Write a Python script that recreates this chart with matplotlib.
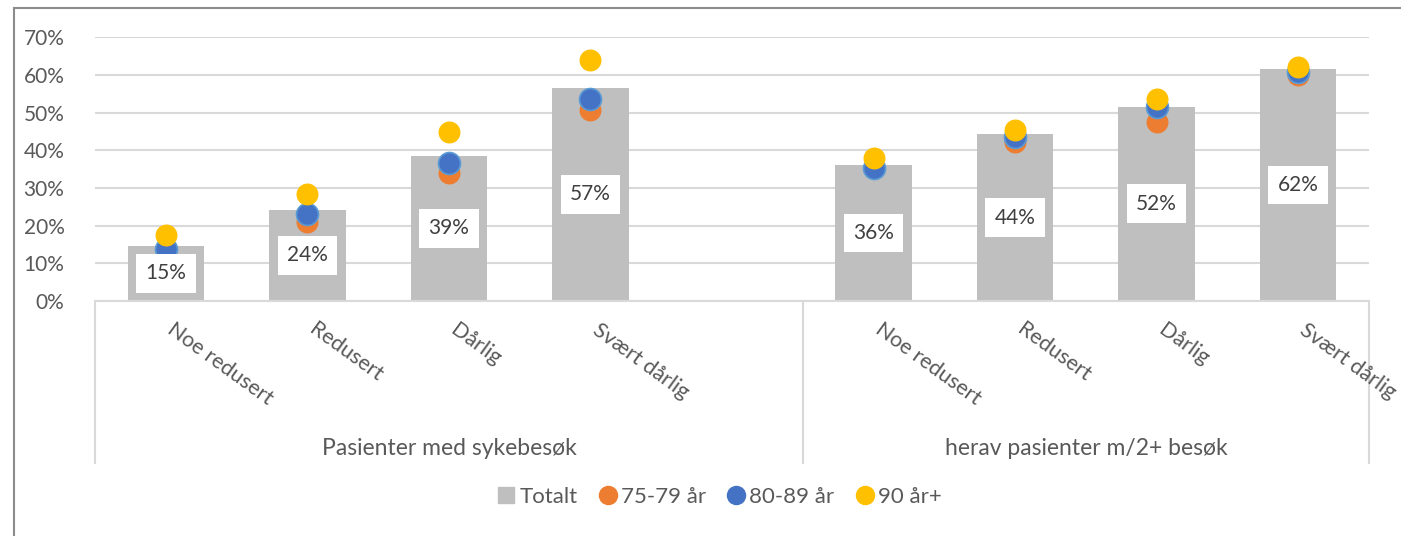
import matplotlib
matplotlib.use("Agg")
import matplotlib.pyplot as plt
import numpy as np
from matplotlib.lines import Line2D
from matplotlib.patches import Patch

plt.rcParams['font.family'] = ['Lato', 'DejaVu Sans']

# Categories (slot 4 is the empty gap between the two groups)
categories = ['Noe redusert', 'Redusert', 'Dårlig', 'Svært dårlig', '',
              'Noe redusert', 'Redusert', 'Dårlig', 'Svært dårlig']
groups = ['Pasienter med sykebesøk', 'herav pasienter m/2+ besøk']
group_spans = [(-0.5, 4.5), (4.5, 8.5)]

# Values in percent
totalt = [14.6, 24.2, 38.6, 56.6, np.nan, 36.1, 44.3, 51.6, 61.6]
age_75_79 = [13.9, 21.0, 33.9, 50.7, np.nan, 35.4, 42.3, 47.6, 60.0]
age_80_89 = [13.7, 23.2, 36.5, 53.6, np.nan, 35.2, 43.6, 51.4, 60.9]
age_90 = [17.6, 28.4, 44.8, 64.0, np.nan, 38.0, 45.4, 53.5, 62.2]

grey = '#bfbfbf'
orange = '#ed7d31'
blue = '#4472c4'
yellow = '#ffc000'
text_col = '#595959'
grid_col = '#d9d9d9'

fig = plt.figure(figsize=(14.01, 5.36), dpi=100)
ax = fig.add_axes([95 / 1401, 1 - 301 / 536, (1369 - 95) / 1401, (301 - 37.3) / 536])

x = np.arange(len(categories))
ax.bar(x, totalt, width=0.54, color=grey, zorder=2)
ax.scatter(x, age_75_79, s=250, color=orange, zorder=3, linewidths=0)
ax.scatter(x, age_80_89, s=250, color=blue, edgecolors='#5b9bd5', linewidths=1.2, zorder=4)
ax.scatter(x, age_90, s=250, color=yellow, zorder=5, linewidths=0)

# data labels in the middle of the bars
for xi, v in zip(x, totalt):
    if np.isnan(v):
        continue
    ax.text(xi, v / 2, f"{v:.0f}%", ha='center', va='center', fontsize=15,
            color='#404040', zorder=6,
            bbox=dict(boxstyle='square,pad=0.45', fc='white', ec='none'))

ax.set_xlim(-0.5, 8.5)
ax.set_ylim(0, 70)
ax.set_yticks(range(0, 71, 10))
ax.set_yticklabels([f"{t}%" for t in range(0, 71, 10)], fontsize=15, color=text_col)
ax.tick_params(axis='y', length=0, pad=22)
ax.tick_params(axis='x', length=0, labelbottom=False)
ax.grid(axis='y', color=grid_col, linewidth=1.5, zorder=0)
ax.set_axisbelow(True)
for s in ['top', 'right', 'left']:
    ax.spines[s].set_visible(False)
ax.spines['bottom'].set_color(grid_col)
ax.spines['bottom'].set_linewidth(1.5)

# rotated category labels
for xi, lab in zip(x, categories):
    ax.text(xi + 0.07, -0.07, lab, transform=ax.get_xaxis_transform(),
            rotation=-36, rotation_mode='anchor', ha='left', va='top',
            fontsize=15.5, color=text_col)

# group boxes and labels
trans = ax.get_xaxis_transform()
box_bottom = -(463 - 301) / 263.4
for xs in [-0.5, 4.5, 8.5]:
    ax.plot([xs, xs], [0, box_bottom], color=grid_col, linewidth=1.5,
            transform=trans, clip_on=False)
for (a, b), g in zip(group_spans, groups):
    ax.text((a + b) / 2, -(448 - 301) / 263.4, g, transform=trans,
            ha='center', va='center', fontsize=16.5, color=text_col)

# legend
handles = [Patch(color=grey),
           Line2D([], [], marker='o', ls='none', color=orange, markersize=13),
           Line2D([], [], marker='o', ls='none', color=blue, markersize=13),
           Line2D([], [], marker='o', ls='none', color=yellow, markersize=13)]
labels = ['Totalt', '75-79 år', '80-89 år', '90 år+']
fig.legend(handles, labels, loc='center', bbox_to_anchor=(720 / 1401, 1 - 497 / 536),
           ncol=4, frameon=False, fontsize=16, labelcolor=text_col,
           handlelength=0.7, handletextpad=0.25, columnspacing=1.0)

# outer frame (left and top edges)
fig.add_artist(Line2D([14 / 1401, 14 / 1401], [0, 1 - 8 / 536], color='#8c8c8c', linewidth=1.5))
fig.add_artist(Line2D([14 / 1401, 1], [1 - 8 / 536, 1 - 8 / 536], color='#8c8c8c', linewidth=1.5))

fig.savefig('out.png', dpi=100)
